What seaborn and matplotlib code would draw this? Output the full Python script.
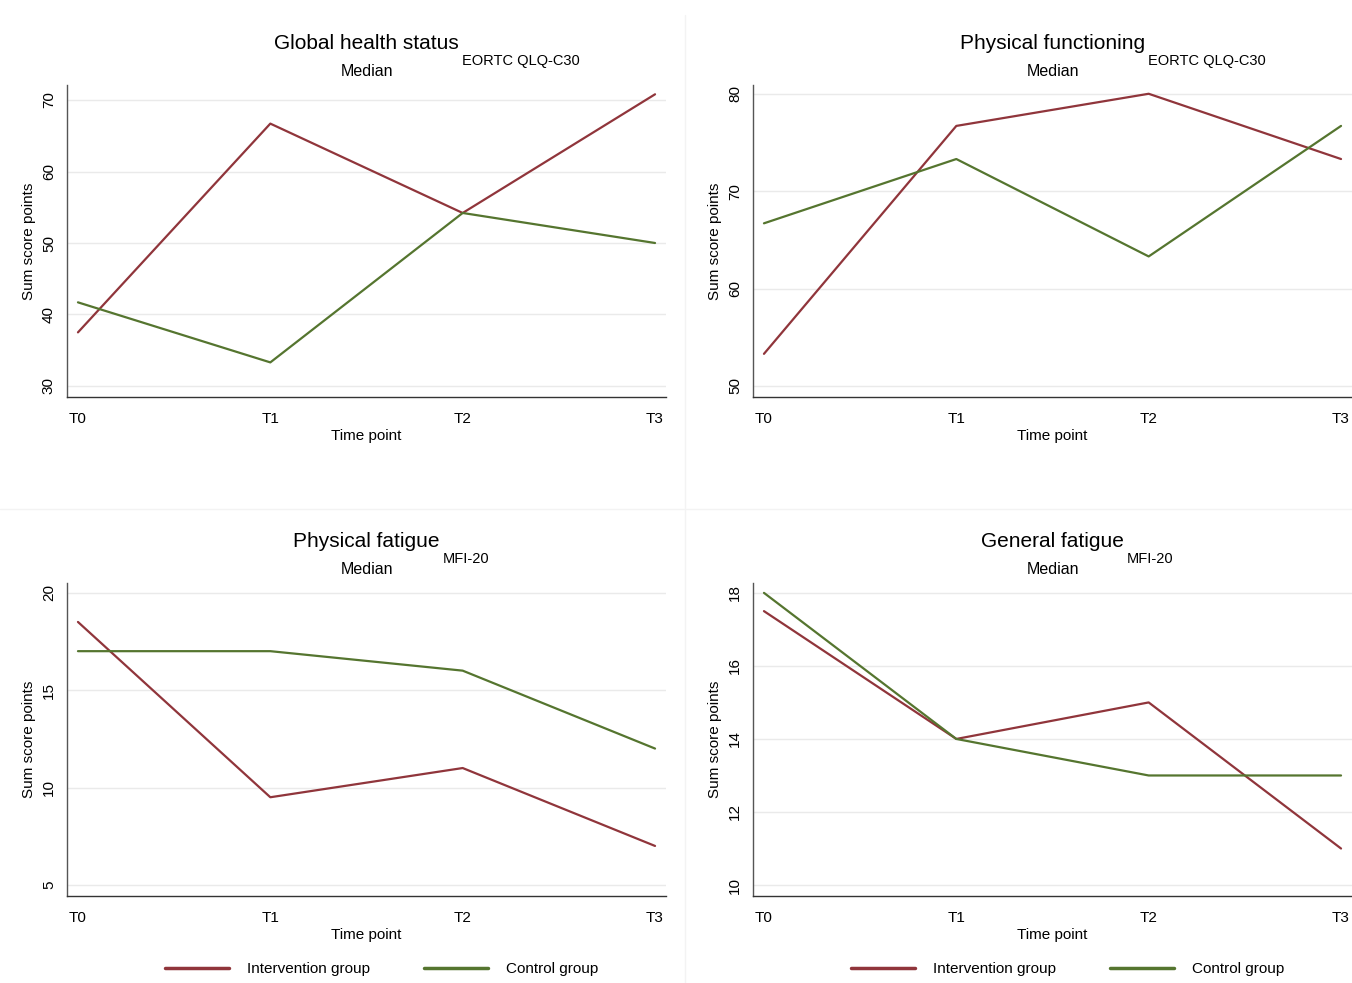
import pandas as pd
import matplotlib.pyplot as plt
from matplotlib.lines import Line2D
import seaborn as sns

# Values (medians per time point)
time_points = ["T0", "T1", "T2", "T3"]
groups = ["Intervention group", "Control group"]

ghs_intervention = [37.5, 66.7, 54.2, 70.8]
ghs_control = [41.7, 33.3, 54.2, 50.0]
pf_intervention = [53.3, 76.7, 80.0, 73.3]
pf_control = [66.7, 73.3, 63.3, 76.7]
phf_intervention = [18.5, 9.5, 11.0, 7.0]
phf_control = [17.0, 17.0, 16.0, 12.0]
gf_intervention = [17.5, 14.0, 15.0, 11.0]
gf_control = [18.0, 14.0, 13.0, 13.0]

titles = ["Global health status", "Physical functioning", "Physical fatigue", "General fatigue"]
instruments = ["EORTC QLQ-C30", "EORTC QLQ-C30", "MFI-20", "MFI-20"]
yticks = [[30, 40, 50, 60, 70], [50, 60, 70, 80], [5, 10, 15, 20], [10, 12, 14, 16, 18]]
ylims = [(28.46, 72.1), (48.87, 80.9), (4.43, 20.5), (9.7, 18.27)]

series = [
    (ghs_intervention, ghs_control),
    (pf_intervention, pf_control),
    (phf_intervention, phf_control),
    (gf_intervention, gf_control),
]

RED = "#90353B"
GREEN = "#55752F"
palette = {groups[0]: RED, groups[1]: GREEN}

sns.set_style("white")
plt.rcParams['font.family'] = ['Liberation Sans', 'DejaVu Sans']
plt.rcParams['text.color'] = 'black'
plt.rcParams['axes.labelcolor'] = 'black'
plt.rcParams['xtick.color'] = 'black'
plt.rcParams['ytick.color'] = 'black'

W, H = 1352, 983
fig = plt.figure(figsize=(W / 100, H / 100), dpi=100)

# axes boxes in pixels: (left, top, right, bottom)
boxes = [(67, 85, 666, 397), (753, 85, 1352, 397),
         (67, 583, 666, 896), (753, 583, 1352, 896)]

# faint panel separators as in the combined graph
fig.add_artist(Line2D([685 / W, 685 / W], [0, 1 - 15 / H], color="#f3f3f3", lw=1))
fig.add_artist(Line2D([0, 1], [1 - 509 / H, 1 - 509 / H], color="#f3f3f3", lw=1))

for i, (l, t, r, b) in enumerate(boxes):
    ax = fig.add_axes([l / W, 1 - b / H, (r - l) / W, (b - t) / H])
    interv, ctrl = series[i]
    df = pd.DataFrame({
        "time": list(range(len(time_points))) * 2,
        "value": interv + ctrl,
        "group": [groups[0]] * 4 + [groups[1]] * 4,
    })
    sns.lineplot(data=df, x="time", y="value", hue="group", palette=palette,
                 linewidth=1.6, ax=ax, legend=(i >= 2))

    ax.set_xlim(-0.057, 3.057)
    ax.set_ylim(*ylims[i])
    ax.set_xticks(range(4))
    ax.set_xticklabels(time_points)
    ax.set_yticks(yticks[i])
    ax.tick_params(axis="y", labelrotation=90, length=5, pad=3, labelsize=11, color="#444")
    ax.tick_params(axis="x", length=5, pad=6, labelsize=11, color="#444")
    for lbl in ax.get_yticklabels():
        lbl.set_va("center")
    ax.grid(axis="y", color="#eaeaea", linewidth=1)
    ax.grid(axis="x", visible=False)
    for side in ["top", "right"]:
        ax.spines[side].set_visible(False)
    ax.spines["left"].set_color("#555")
    ax.spines["bottom"].set_color("#333")
    ax.spines["left"].set_linewidth(1)
    ax.spines["bottom"].set_linewidth(1)

    ax.set_xlabel("Time point", fontsize=11, labelpad=2)
    ax.set_ylabel("Sum score points", fontsize=11, labelpad=4)

    # title with subscript-like instrument name, and subtitle
    ttl = ax.annotate(titles[i], xy=(0.5, 1), xycoords="axes fraction",
                      xytext=(0, 30), textcoords="offset points",
                      ha="center", va="center", fontsize=15)
    ax.annotate(instruments[i], xy=(1, 0), xycoords=ttl,
                xytext=(2, -1), textcoords="offset points",
                ha="left", va="top", fontsize=10.5)
    ax.annotate("Median", xy=(0.5, 1), xycoords="axes fraction",
                xytext=(0, 10), textcoords="offset points",
                ha="center", va="center", fontsize=11.5)

    if i >= 2:
        handles, labels = ax.get_legend_handles_labels()
        for h in handles:
            h.set_linewidth(2.5)
        ax.legend(handles, labels, loc="center", bbox_to_anchor=(0.525, -73 / (b - t)),
                  ncol=2, frameon=False, fontsize=11, handlelength=4.2,
                  handletextpad=1.2, columnspacing=3.5)

fig.savefig("out.png", dpi=100)
